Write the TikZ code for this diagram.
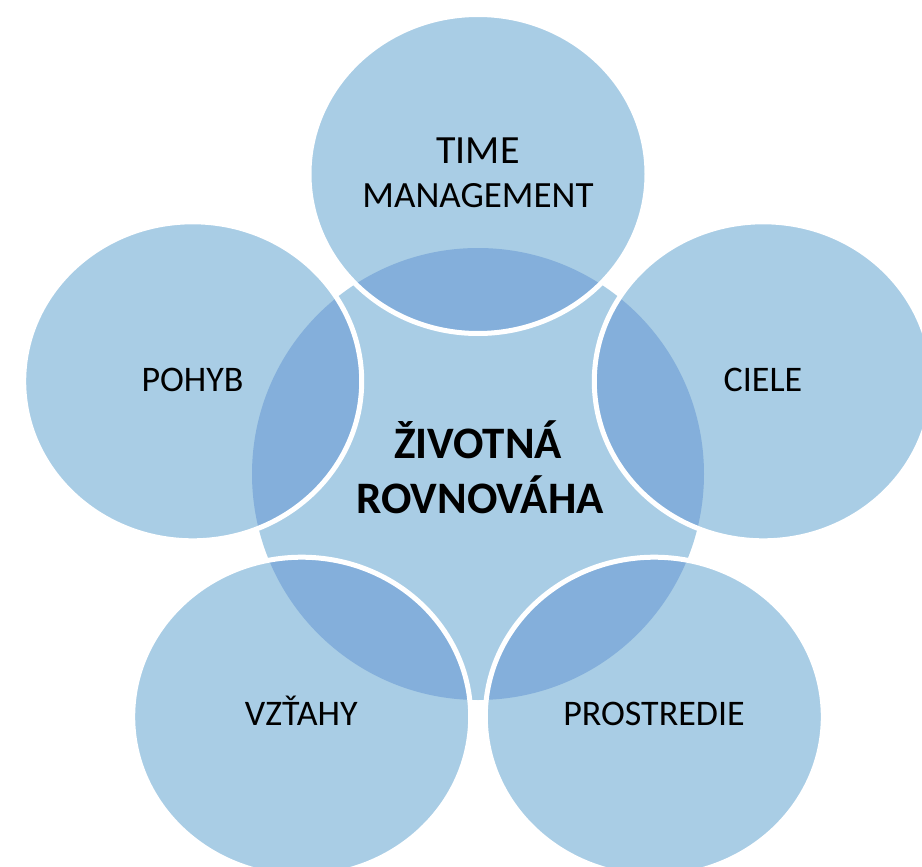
\documentclass[tikz,border=0pt]{standalone}
\usepackage{fontspec}
\setmainfont{Carlito}
\definecolor{lightb}{RGB}{169,205,229}
\definecolor{darkb}{RGB}{132,175,219}
\tikzset{
  lab/.style={font=\fontsize{36}{40}\selectfont, anchor=base, inner sep=0pt, text=black},
  centerlab/.style={font=\fontsize{45}{50}\selectfont\bfseries, anchor=base, inner sep=0pt, text=black},
  ring/.style={draw=white, line width=5pt}
}
\begin{document}
\begin{tikzpicture}[x=1pt,y=-1pt]
\useasboundingbox (0,0) rectangle (922,867);
\coordinate (C) at (478,474);
\coordinate (T) at (478,174);
\coordinate (L) at (192.7,381.3);
\coordinate (R) at (763.3,381.3);
\coordinate (BL) at (301.7,716.7);
\coordinate (BR) at (654.3,716.7);
\def\rx{169pt}
\def\ry{159.5pt}
% central circle
\fill[lightb] (C) circle[radius=226pt];
% outer ellipses
\foreach \p in {T,L,R,BL,BR}{
  \fill[lightb] (\p) ellipse[x radius=\rx, y radius=\ry];
}
% overlaps
\begin{scope}
  \clip (C) circle[radius=226pt];
  \foreach \p in {T,L,R,BL,BR}{
    \fill[darkb] (\p) ellipse[x radius=\rx, y radius=\ry];
  }
\end{scope}
% white outlines
\foreach \p in {T,L,R,BL,BR}{
  \draw[ring] (\p) ellipse[x radius=\rx, y radius=\ry];
}
% labels
\node[lab, font=\fontsize{40}{44}\selectfont] (time) at (478,163) {TIME};
\node[lab, font=\fontsize{37}{40}\selectfont] (mgmt) at (478,207) {MANAGEMENT};
\node[lab] (pohyb) at (192.5,391) {POHYB};
\node[lab] (ciele) at (763,391) {CIELE};
\node[lab] (vztahy) at (301.3,725) {VZŤAHY};
\node[lab] (prostredie) at (654,725) {PROSTREDIE};
\node[centerlab] (zivotna) at (478,458) {ŽIVOTNÁ};
\node[centerlab] (rovnovaha) at (480,513) {ROVNOVÁHA};
\end{tikzpicture}
\end{document}
